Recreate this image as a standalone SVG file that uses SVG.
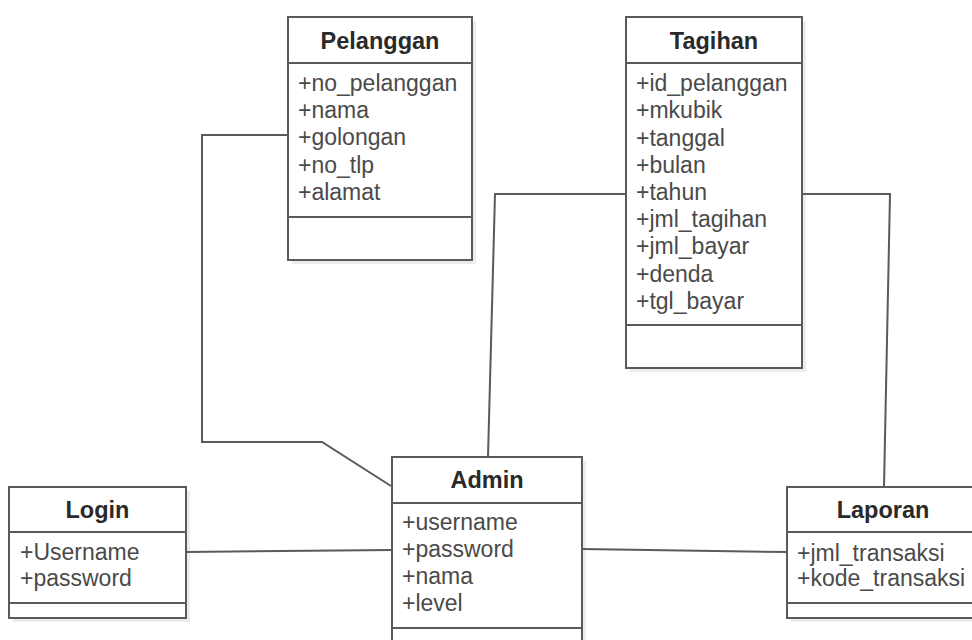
<svg xmlns="http://www.w3.org/2000/svg" width="972" height="640" viewBox="0 0 972 640">
  <defs>
    <style>
      .shadow { fill: #ececec; stroke: none; }
      .box { fill: #ffffff; stroke: #5a5a5a; stroke-width: 2; }
      .sep { stroke: #5a5a5a; stroke-width: 2; }
      .title { font-family: "Liberation Sans", Arial, sans-serif; font-size: 23.5px; font-weight: bold; fill: #2a2a2a; text-anchor: middle; }
      .attr { font-family: "Liberation Sans", Arial, sans-serif; font-size: 23px; fill: #4a4a4a; }
      .conn { fill: none; stroke: #5a5a5a; stroke-width: 2; stroke-linejoin: miter; }
    </style>
  </defs>
  <rect width="972" height="640" fill="#ffffff"/>

  <g id="pelanggan">
    <rect class="shadow" x="292" y="21" width="184" height="243"/>
    <rect class="box" x="288" y="17" width="184" height="243"/>
    <line class="sep" x1="288" y1="63" x2="472" y2="63"/>
    <line class="sep" x1="288" y1="217" x2="472" y2="217"/>
    <text class="title" x="380" y="49">Pelanggan</text>
    <text class="attr" x="298" y="91">+no_pelanggan</text>
    <text class="attr" x="298" y="118">+nama</text>
    <text class="attr" x="298" y="145">+golongan</text>
    <text class="attr" x="298" y="173">+no_tlp</text>
    <text class="attr" x="298" y="200">+alamat</text>
  </g>

  <g id="tagihan">
    <rect class="shadow" x="630" y="21" width="176" height="351"/>
    <rect class="box" x="626" y="17" width="176" height="351"/>
    <line class="sep" x1="626" y1="63" x2="802" y2="63"/>
    <line class="sep" x1="626" y1="325" x2="802" y2="325"/>
    <text class="title" x="714" y="49">Tagihan</text>
    <text class="attr" x="636" y="91">+id_pelanggan</text>
    <text class="attr" x="636" y="118">+mkubik</text>
    <text class="attr" x="636" y="146">+tanggal</text>
    <text class="attr" x="636" y="173">+bulan</text>
    <text class="attr" x="636" y="200">+tahun</text>
    <text class="attr" x="636" y="227">+jml_tagihan</text>
    <text class="attr" x="636" y="254">+jml_bayar</text>
    <text class="attr" x="636" y="282">+denda</text>
    <text class="attr" x="636" y="309">+tgl_bayar</text>
  </g>

  <g id="login">
    <rect class="shadow" x="13" y="491" width="177" height="131"/>
    <rect class="box" x="9" y="487" width="177" height="131"/>
    <line class="sep" x1="9" y1="532" x2="186" y2="532"/>
    <line class="sep" x1="9" y1="603" x2="186" y2="603"/>
    <text class="title" x="97.5" y="518">Login</text>
    <text class="attr" x="20" y="560">+Username</text>
    <text class="attr" x="20" y="586">+password</text>
  </g>

  <g id="admin">
    <rect class="shadow" x="396" y="461" width="190" height="200"/>
    <rect class="box" x="392" y="457" width="190" height="200"/>
    <line class="sep" x1="392" y1="503" x2="582" y2="503"/>
    <line class="sep" x1="392" y1="628" x2="582" y2="628"/>
    <text class="title" x="487" y="488">Admin</text>
    <text class="attr" x="402" y="530">+username</text>
    <text class="attr" x="402" y="557">+password</text>
    <text class="attr" x="402" y="584">+nama</text>
    <text class="attr" x="402" y="611">+level</text>
  </g>

  <g id="laporan">
    <rect class="shadow" x="791" y="491" width="192" height="131"/>
    <rect class="box" x="787" y="487" width="192" height="131"/>
    <line class="sep" x1="787" y1="532" x2="979" y2="532"/>
    <line class="sep" x1="787" y1="603" x2="979" y2="603"/>
    <text class="title" x="883" y="518">Laporan</text>
    <text class="attr" x="797" y="561">+jml_transaksi</text>
    <text class="attr" x="797" y="586">+kode_transaksi</text>
  </g>

  <!-- associations, drawn over the drop shadows so they meet the box edges -->
  <g id="connectors">
    <polyline class="conn" points="288,135 202,135 202,442 322,442 391,486"/>
    <polyline class="conn" points="626,194 495,194 488,457"/>
    <polyline class="conn" points="802,194 890,194 884,487"/>
    <line class="conn" x1="186" y1="552" x2="392" y2="550"/>
    <line class="conn" x1="582" y1="549" x2="787" y2="552"/>
  </g>
</svg>
